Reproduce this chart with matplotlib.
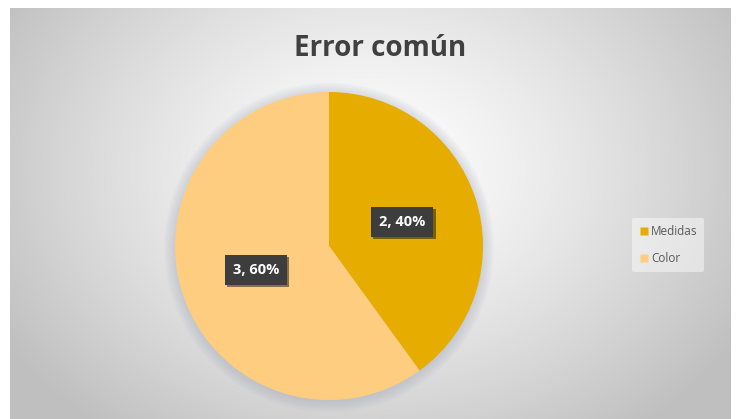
import numpy as np
import matplotlib
matplotlib.use("Agg")
import matplotlib.pyplot as plt
from matplotlib import patheffects as pe
from matplotlib.lines import Line2D
from matplotlib.patches import Circle

categories = ["Medidas", "Color"]
values = [2, 3]
colors = ["#E6AC00", "#FFCD80"]
title = "Error común"

W, H = 739, 419
fig = plt.figure(figsize=(W / 100, H / 100), dpi=100)
fig.patch.set_facecolor("white")

# background box with radial gradient
bx0, by0, bx1, by1 = 10, 8, 731, 419
bg = fig.add_axes([bx0 / W, 1 - by1 / H, (bx1 - bx0) / W, (by1 - by0) / H])
bg.set_axis_off()
ys, xs = np.mgrid[by0:by1, bx0:bx1]
cx, cy = 370, 170
d = np.sqrt(((xs - cx) / 430.0) ** 2 + ((ys - cy) / 330.0) ** 2)
d = np.clip(d, 0, 1)
v = 1.0 - 0.25 * d ** 1.3
img = np.dstack([v, v, v])
bg.imshow(img, aspect="auto", extent=[0, 1, 0, 1], interpolation="bilinear")
bg.set_xlim(0, 1)
bg.set_ylim(0, 1)

# pie axes
pcx, pcy, r = 329, 246, 154
pad = 1.15
ax = fig.add_axes([(pcx - r * pad) / W, (H - pcy - r * pad) / H, 2 * r * pad / W, 2 * r * pad / H])
ax.set_axis_off()

# soft glow shadow
for rr in np.linspace(1.07, 1.0, 8):
    ax.add_patch(Circle((0, -0.01), rr, facecolor="#9aa3b5", alpha=0.05, edgecolor="none", zorder=0))

total = sum(values)
def fmt(p):
    n = int(round(p * total / 100.0))
    return f"{n}, {p:.0f}%"

wedges, texts, autotexts = ax.pie(
    values, colors=colors, startangle=90, counterclock=False,
    autopct=fmt, pctdistance=0.5, radius=1.0,
    wedgeprops=dict(linewidth=0, edgecolor="none"),
    textprops=dict(color="white", fontsize=10.5, fontweight="bold", family="Open Sans"),
)
ax.set_xlim(-pad, pad)
ax.set_ylim(-pad, pad)
ax.set_aspect("equal")
for t in autotexts:
    t.set_bbox(dict(boxstyle="square,pad=0.55", facecolor="#3d3d3d", edgecolor="none"))
    t.get_bbox_patch().set_path_effects([pe.SimplePatchShadow(offset=(1.5, -1.5), alpha=0.5), pe.Normal()])

fig.text(380 / W, 1 - 48 / H, title, ha="center", va="center", fontsize=20,
         fontweight="bold", family="Open Sans", color="#404040")

handles = [Line2D([], [], marker="s", linestyle="none", markersize=5.5,
                  markerfacecolor=c, markeredgecolor="none") for c in colors]
leg = fig.legend(handles, categories, loc="center left", bbox_to_anchor=(626 / W, 1 - 245 / H),
                 frameon=True, handletextpad=0.2, labelspacing=1.2,
                 borderpad=0.6, handlelength=0.8,
                 prop=dict(family="Open Sans", size=8.5))
leg.get_frame().set_facecolor("white")
leg.get_frame().set_alpha(0.45)
leg.get_frame().set_edgecolor("none")
for t in leg.get_texts():
    t.set_color("#595959")

fig.savefig("out.png", dpi=100)
